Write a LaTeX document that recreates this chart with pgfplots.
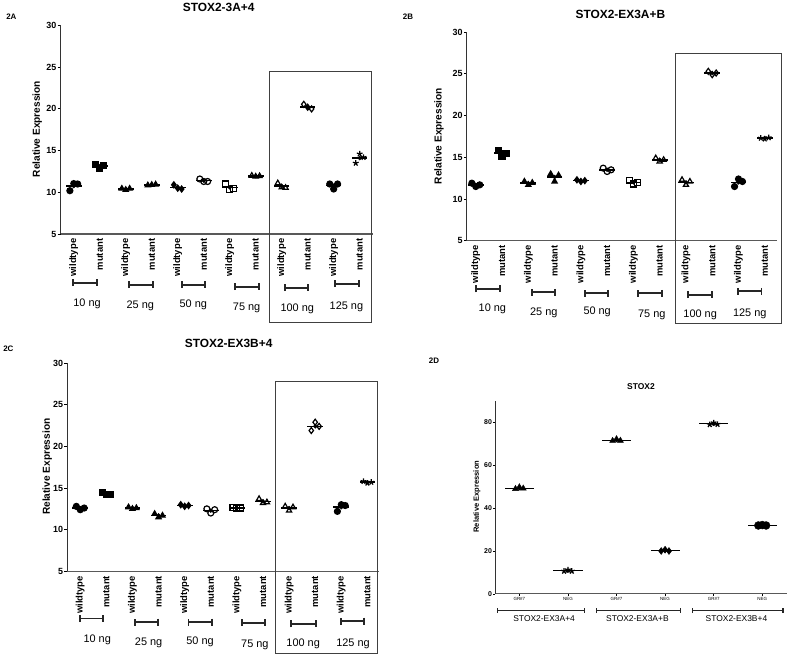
\documentclass[border=0pt]{standalone}
\usepackage{pgfplots}
\pgfplotsset{compat=1.18}
\usepackage{fontspec}
\setmainfont{Liberation Sans}
\usetikzlibrary{arrows.meta}

\newcommand{\fs}[1]{\fontsize{#1}{#1}\selectfont}
% bracket under a pair of groups, and its label
\newcommand{\pairbrk}[3]{\draw[{Bar[width=7bp]}-{Bar[width=7bp]}, line width=1.9bp, black!85] (axis cs:#1,#3) -- (axis cs:#2,#3);}
\newcommand{\nglab}[3]{\node[font=\fs{11}] at (axis cs:#1,#2) {#3 ng};}

\pgfplotsset{
  prism/.style={
    scale only axis, clip=false,
    axis x line*=bottom, axis y line*=left,
    x axis line style={-, line width=1.3bp, draw=black!65},
    y axis line style={-, line width=1.2bp, draw=black!80},
    ymin=5, ymax=30, ytick={5,10,...,30},
    xtick={0,...,11},
    xticklabels={wildtype,mutant,wildtype,mutant,wildtype,mutant,wildtype,mutant,wildtype,mutant,wildtype,mutant},
    xticklabel style={rotate=90, anchor=east, font=\bfseries\fs{9.5}, inner sep=1.5bp},
    yticklabel style={font=\bfseries\fs{9}, inner sep=1bp},
    tick align=outside, major tick length=3bp,
    x tick style={draw=none}, y tick style={line width=1bp, black},
    /pgf/number format/assume math mode=true,
  },
  dots/.style={scatter, only marks, scatter src=explicit symbolic, mark size=3bp,
    every mark/.append style={line width=1.2bp},
    scatter/classes={
      a={mark=*, draw=black, fill=black},
      b={mark=square*, draw=black, fill=black},
      c={mark=triangle*, draw=black, fill=black},
      d={mark=triangle*, draw=black, fill=black, every mark/.append style={rotate=180}},
      e={mark=diamond*, draw=black, fill=black},
      f={mark=o, draw=black},
      g={mark=square, draw=black},
      h={mark=triangle, draw=black},
      i={mark=triangle, draw=black, every mark/.append style={rotate=180}},
      j={mark=diamond, draw=black},
      k={mark=*, draw=black, fill=black},
      l={mark=star, draw=black}}},
  means/.style={only marks, mark=none, black,
    error bars/.cd, x dir=both, x fixed=0.3, error mark=none,
    error bar style={line width=1.5bp, black}},
}

\begin{document}
\begin{tikzpicture}[x=1bp,y=1bp]
\path (0,0) rectangle (787,656);

% ---------------- 2A
\begin{axis}[prism, at={(58.3bp,422.7bp)}, anchor=south west, width=313.7bp, height=209.3bp,
  xmin=-0.51, xmax=11.52]
\addplot[dots] table[meta=c] {
x y c
-0.15 10.2 a
0 11.05 a
0.15 11.0 a
0.85 13.3 b
1 12.9 b
1.15 13.25 b
1.85 10.45 c
2 10.3 c
2.15 10.45 c
2.85 10.85 d
3.15 10.95 d
3.0 10.9 d
3.85 10.9 e
4 10.5 e
4.15 10.4 e
4.85 11.6 f
5 11.3 f
5.15 11.3 f
5.85 11.0 g
6 10.3 g
6.15 10.5 g
6.85 12.0 h
7 11.9 h
7.15 11.95 h
7.85 11.1 i
8 10.6 i
8.15 10.55 i
8.85 20.55 j
9 20.2 j
9.15 20.0 j
9.85 11.0 k
10 10.4 k
10.15 11.0 k
10.85 13.5 l
11 14.6 l
11.15 14.2 l
};
\addplot[means] table {
x y
0 10.75
1 13.15
2 10.4
3 10.9
4 10.6
5 11.4
6 10.6
7 11.95
8 10.75
9 20.2
10 10.8
11 14.1
};
\pairbrk{-0.07}{0.93}{-0.82}\pairbrk{2.08}{3.07}{-1.06}\pairbrk{4.12}{5.09}{-1.06}
\pairbrk{6.16}{7.16}{-1.3}\pairbrk{8.08}{9.06}{-1.42}\pairbrk{10.02}{11.0}{-0.94}
\nglab{0.51}{-3.33}{10}\nglab{2.56}{-3.57}{25}\nglab{4.6}{-3.45}{50}
\nglab{6.65}{-3.8}{75}\nglab{8.6}{-3.92}{100}\nglab{10.49}{-3.69}{125}
\draw[black!75, line width=0.9bp] (axis cs:7.52,-5.56) rectangle (axis cs:11.45,24.43);
\end{axis}

% ---------------- 2B
\begin{axis}[prism, at={(466bp,416bp)}, anchor=south west, width=311bp, height=209.3bp,
  xmin=-0.34, xmax=11.46]
\addplot[dots] table[meta=c] {
x y c
-0.15 11.9 a
0 11.5 a
0.15 11.7 a
0.85 15.8 b
1 15.1 b
1.15 15.5 b
1.85 12.1 c
2 11.7 c
2.15 11.95 c
2.85 13.0 d
3 12.1 d
3.15 12.85 d
3.85 12.3 e
4 12.1 e
4.15 12.2 e
4.85 13.7 f
5 13.3 f
5.15 13.5 f
5.85 12.2 g
6 11.8 g
6.15 12.0 g
6.85 14.9 h
7 14.5 h
7.15 14.7 h
7.85 12.3 i
8 11.7 i
8.15 12.1 i
8.85 25.3 j
9 24.9 j
9.15 25.1 j
9.85 11.5 k
10 12.4 k
10.15 12.1 k
10.85 17.3 l
11 17.2 l
11.15 17.35 l
};
\addplot[means] table {
x y
0 11.7
1 15.5
2 11.9
3 12.65
4 12.2
5 13.5
6 12.0
7 14.7
8 12.0
9 25.1
10 12.0
11 17.3
};
\pairbrk{-0.04}{0.95}{-0.77}\pairbrk{2.11}{3.06}{-1.18}\pairbrk{4.11}{5.08}{-1.3}
\pairbrk{6.13}{7.12}{-1.3}\pairbrk{8.03}{9.02}{-1.45}\pairbrk{9.93}{10.91}{-1.06}
\nglab{0.63}{-3.16}{10}\nglab{2.59}{-3.69}{25}\nglab{4.62}{-3.57}{50}
\nglab{6.7}{-3.88}{75}\nglab{8.54}{-3.86}{100}\nglab{10.43}{-3.81}{125}
\draw[black!75, line width=0.9bp] (axis cs:7.59,-4.95) rectangle (axis cs:11.63,27.5);
\end{axis}

% ---------------- 2C
\begin{axis}[prism, at={(65bp,84.3bp)}, anchor=south west, width=313bp, height=209bp,
  xmin=-0.5, xmax=11.45]
\addplot[dots] table[meta=c] {
x y c
-0.15 12.8 a
0 12.4 a
0.15 12.6 a
0.85 14.5 b
1 14.2 b
1.15 14.2 b
1.85 12.7 c
2 12.5 c
2.15 12.6 c
2.85 11.9 d
3 11.5 d
3.15 11.7 d
3.85 13.0 e
4 12.8 e
4.15 12.9 e
4.85 12.5 f
5 12.0 f
5.15 12.4 f
5.85 12.7 g
6 12.5 g
6.15 12.6 g
6.85 13.7 h
7 13.2 h
7.15 13.3 h
7.85 12.8 i
8 12.3 i
8.15 12.7 i
8.85 21.9 j
9 22.9 j
9.15 22.4 j
9.85 12.2 k
10 13.0 k
10.15 12.9 k
10.85 15.8 l
11 15.6 l
11.15 15.7 l
};
\addplot[means] table {
x y
0 12.6
1 14.3
2 12.6
3 11.7
4 12.9
5 12.3
6 12.6
7 13.4
8 12.6
9 22.4
10 12.7
11 15.7
};
\pairbrk{-0.05}{0.9}{-0.66}\pairbrk{2.07}{3.03}{-1.1}\pairbrk{4.11}{5.08}{-1.1}
\pairbrk{6.15}{7.11}{-1.15}\pairbrk{8.05}{9.05}{-1.29}\pairbrk{9.96}{10.92}{-0.98}
\nglab{0.65}{-3.17}{10}\nglab{2.62}{-3.57}{25}\nglab{4.59}{-3.45}{50}
\nglab{6.69}{-3.77}{75}\nglab{8.54}{-3.7}{100}\nglab{10.45}{-3.7}{125}
\draw[black!75, line width=0.9bp] (axis cs:7.48,-4.88) rectangle (axis cs:11.37,27.81);
\end{axis}

% ---------------- 2D
\begin{axis}[scale only axis, clip=false, at={(494.3bp,61.7bp)}, anchor=south west,
  width=292.4bp, height=193.6bp,
  axis x line*=bottom, axis y line*=left,
  x axis line style={-, line width=1bp, draw=black!65},
  y axis line style={-, line width=0.9bp, draw=black!80},
  xmin=-0.5, xmax=5.5, ymin=0, ymax=90, ytick={0,20,...,80},
  xtick={0,...,5}, xticklabels={GR\#7,NEG,GR\#7,NEG,GR\#7,NEG},
  xticklabel style={font=\fs{4.5}, inner sep=1.5bp},
  yticklabel style={font=\bfseries\fs{7}, inner sep=1bp},
  tick align=outside, major tick length=2bp, tick style={line width=0.6bp, black},
  /pgf/number format/assume math mode=true]
\addplot[only marks, mark=triangle*, mark size=3.5bp, black] coordinates {(-0.08,49.0) (0,49.8) (0.08,49.2)};
\addplot[only marks, mark=star, mark size=3bp, line width=1.3bp, black] coordinates {(0.92,10.6) (1,11.2) (1.08,10.6)};
\addplot[only marks, mark=triangle*, mark size=3.5bp, black] coordinates {(1.92,71.4) (2,72.2) (2.08,71.5)};
\addplot[only marks, mark=diamond*, mark size=3.5bp, black] coordinates {(2.92,20.0) (3,20.6) (3.08,20.0)};
\addplot[only marks, mark=star, mark size=3bp, line width=1.3bp, black] coordinates {(3.92,79.0) (4,79.8) (4.08,79.1)};
\addplot[only marks, mark=*, mark size=4bp, black] coordinates {(4.92,31.9) (5,32.1) (5.08,31.9)};
\addplot[only marks, mark=none, black, error bars/.cd, x dir=both, x fixed=0.3, error mark=none,
  error bar style={line width=1bp, black}] table {
x y
0 49.3
1 10.8
2 71.7
3 20.2
4 79.3
5 32.0
};
\draw[{Bar[width=5bp]}-{Bar[width=5bp]}, line width=1.2bp, black!85] (axis cs:-0.46,-7.8) -- (axis cs:1.35,-7.8);
\draw[{Bar[width=5bp]}-{Bar[width=5bp]}, line width=1.2bp, black!85] (axis cs:1.57,-7.8) -- (axis cs:3.33,-7.8);
\draw[{Bar[width=5bp]}-{Bar[width=5bp]}, line width=1.2bp, black!85] (axis cs:3.56,-7.8) -- (axis cs:5.44,-7.8);
\node[font=\fs{8.5}] at (axis cs:0.51,-11.6) {STOX2-EX3A+4};
\node[font=\fs{8.5}] at (axis cs:2.43,-11.6) {STOX2-EX3A+B};
\node[font=\fs{8.5}] at (axis cs:4.47,-11.6) {STOX2-EX3B+4};
\end{axis}

% titles, panel letters, axis labels
\node[font=\bfseries\fs{12}] at (217,650) {STOX2-3A+4};
\node[font=\bfseries\fs{12}] at (620,642.7) {STOX2-EX3A+B};
\node[font=\bfseries\fs{12}] at (227,312.7) {STOX2-EX3B+4};
\node[font=\bfseries\fs{8.5}] at (640.7,270) {STOX2};
\node[font=\bfseries\fs{8}] at (9,641) {2A};
\node[font=\bfseries\fs{8}] at (407,641) {2B};
\node[font=\bfseries\fs{8}] at (6,307.7) {2C};
\node[font=\bfseries\fs{8}] at (433,296) {2D};
\node[rotate=90, font=\bfseries\fs{10.2}] at (35,528) {Relative Expression};
\node[rotate=90, font=\bfseries\fs{10.2}] at (438,521) {Relative Expression};
\node[rotate=90, font=\bfseries\fs{10.2}] at (45,189.3) {Relative Expression};
\node[rotate=90, font=\bfseries\fs{7.6}] at (476,159.3) {Relative Expression};
\end{tikzpicture}
\end{document}
